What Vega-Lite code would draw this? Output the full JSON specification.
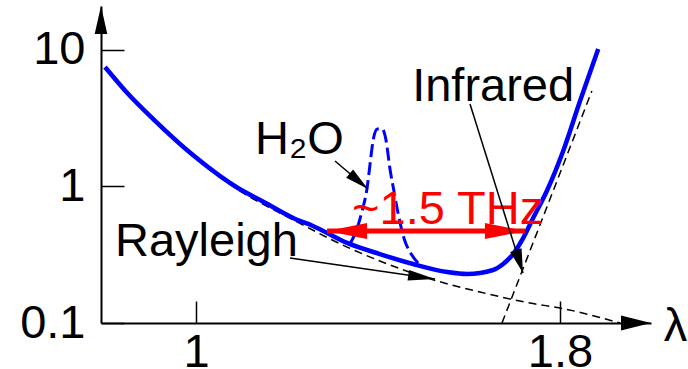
{
  "$schema": "https://vega.github.io/schema/vega-lite/v6.json",
  "width": 550,
  "height": 317,
  "autosize": "none",
  "padding": {"left": 101, "top": 6, "right": 37, "bottom": 46},
  "background": "white",
  "config": {"view": {"stroke": null}, "font": "Liberation Sans"},
  "datasets": {
    "attenuation": [
      {"lambda": 0.800, "loss": 7.51}, {"lambda": 0.851, "loss": 4.76}, {"lambda": 0.906, "loss": 3.12},
      {"lambda": 0.998, "loss": 1.65}, {"lambda": 1.092, "loss": 0.975}, {"lambda": 1.145, "loss": 0.783},
      {"lambda": 1.218, "loss": 0.578}, {"lambda": 1.257, "loss": 0.514}, {"lambda": 1.332, "loss": 0.386},
      {"lambda": 1.404, "loss": 0.320}, {"lambda": 1.477, "loss": 0.2705}, {"lambda": 1.552, "loss": 0.2364},
      {"lambda": 1.596, "loss": 0.2285}, {"lambda": 1.653, "loss": 0.2445}, {"lambda": 1.675, "loss": 0.2705},
      {"lambda": 1.697, "loss": 0.320}, {"lambda": 1.719, "loss": 0.419}, {"lambda": 1.741, "loss": 0.588},
      {"lambda": 1.771, "loss": 0.927}, {"lambda": 1.807, "loss": 1.82}, {"lambda": 1.844, "loss": 4.23},
      {"lambda": 1.884, "loss": 10.17}
    ],
    "water": [
      {"lambda": 1.338, "loss": 0.379}, {"lambda": 1.352, "loss": 0.472}, {"lambda": 1.365, "loss": 0.661},
      {"lambda": 1.376, "loss": 0.975}, {"lambda": 1.382, "loss": 1.41}, {"lambda": 1.389, "loss": 2.15},
      {"lambda": 1.398, "loss": 2.64}, {"lambda": 1.409, "loss": 2.64}, {"lambda": 1.418, "loss": 2.15},
      {"lambda": 1.426, "loss": 1.366}, {"lambda": 1.435, "loss": 0.927}, {"lambda": 1.444, "loss": 0.64},
      {"lambda": 1.457, "loss": 0.419}, {"lambda": 1.473, "loss": 0.320}, {"lambda": 1.488, "loss": 0.275}
    ],
    "rayleigh": [
      {"lambda": 0.800, "loss": 7.3}, {"lambda": 0.906, "loss": 3.05}, {"lambda": 0.998, "loss": 1.61},
      {"lambda": 1.092, "loss": 0.95}, {"lambda": 1.218, "loss": 0.56}, {"lambda": 1.332, "loss": 0.36},
      {"lambda": 1.404, "loss": 0.2846}, {"lambda": 1.508, "loss": 0.2137}, {"lambda": 1.624, "loss": 0.1687},
      {"lambda": 1.734, "loss": 0.140}, {"lambda": 1.800, "loss": 0.1288}, {"lambda": 1.932, "loss": 0.1}
    ],
    "infrared": [
      {"lambda": 1.6725, "loss": 0.1}, {"lambda": 1.870, "loss": 5.01}
    ],
    "band": [
      {"lambda": 1.288, "loss": 0.472, "end": "left"}, {"lambda": 1.723, "loss": 0.472, "end": "right"}
    ],
    "notes": [
      {"label": "Rayleigh", "lambda": 0.822, "loss": 0.3096},
      {"label": "H₂O", "lambda": 1.1297, "loss": 1.730},
      {"label": "Infrared", "lambda": 1.475, "loss": 4.23}
    ],
    "pointers": [
      {"name": "H2O", "part": "start", "lambda": 1.3055, "loss": 1.538},
      {"name": "H2O", "part": "tip", "lambda": 1.378, "loss": 0.958},
      {"name": "Rayleigh", "part": "start", "lambda": 1.2066, "loss": 0.2994},
      {"name": "Rayleigh", "part": "tip", "lambda": 1.5253, "loss": 0.210},
      {"name": "Infrared", "part": "start", "lambda": 1.6022, "loss": 4.02},
      {"name": "Infrared", "part": "tip", "lambda": 1.7187, "loss": 0.2324}
    ],
    "axisEnds": [
      {"axis": "y", "lambda": 0.7912, "loss": 21},
      {"axis": "x", "lambda": 2.0, "loss": 0.1}
    ]
  },
  "encoding": {
    "x": {
      "field": "lambda", "type": "quantitative",
      "scale": {"domain": [0.7912, 2.0], "nice": false, "zero": false},
      "axis": {
        "values": [1, 1.8], "format": "~g", "title": null, "grid": false,
        "labelFontSize": 47, "labelFont": "Liberation Sans", "labelColor": "#000",
        "labelPadding": 28, "tickSize": -22, "tickWidth": 1.5, "tickColor": "#000",
        "domainColor": "#000", "domainWidth": 2, "labelFlush": false, "labelBound": false, "labelOverlap": false
      }
    },
    "y": {
      "field": "loss", "type": "quantitative",
      "scale": {"type": "log", "domain": [0.1, 21], "nice": false},
      "axis": {
        "values": [0.1, 1, 10], "format": "~g", "title": null, "grid": false,
        "labelFontSize": 47, "labelFont": "Liberation Sans", "labelColor": "#000",
        "labelPadding": 39, "tickSize": -23, "tickWidth": 1.5, "tickColor": "#000",
        "domainColor": "#000", "domainWidth": 2, "labelFlush": false, "labelBound": false, "labelOverlap": false
      }
    }
  },
  "layer": [
    {"data": {"name": "rayleigh"}, "mark": {"type": "line", "color": "#000", "strokeWidth": 1.5, "strokeDash": [8, 5], "interpolate": "monotone"}},
    {"data": {"name": "infrared"}, "mark": {"type": "line", "color": "#000", "strokeWidth": 1.5, "strokeDash": [8, 5]}},
    {"data": {"name": "water"}, "mark": {"type": "line", "color": "#0000ff", "strokeWidth": 3, "strokeDash": [13, 5], "interpolate": "monotone"}},
    {"data": {"name": "attenuation"}, "mark": {"type": "line", "color": "#0000ff", "strokeWidth": 4.5, "interpolate": "monotone"}},
    {"data": {"name": "band"}, "mark": {"type": "line", "color": "#ff0000", "strokeWidth": 5}},
    {"data": {"name": "band"}, "transform": [{"filter": "datum.end === 'left'"}],
     "mark": {"type": "point", "filled": true, "color": "#ff0000", "opacity": 1, "shape": "M 0 0 L 2 -0.4 L 2 0.4 Z", "size": 1600}},
    {"data": {"name": "band"}, "transform": [{"filter": "datum.end === 'right'"}],
     "mark": {"type": "point", "filled": true, "color": "#ff0000", "opacity": 1, "shape": "M 0 0 L -2 -0.4 L -2 0.4 Z", "size": 1600}},
    {"data": {"name": "notes"}, "mark": {"type": "text", "align": "left", "baseline": "alphabetic", "fontSize": 47, "font": "Liberation Sans", "color": "#000"},
     "encoding": {"text": {"field": "label"}}},
    {"data": {"values": [{"label": "~1.5 THz", "lambda": 1.343, "loss": 0.531}]},
     "mark": {"type": "text", "align": "left", "baseline": "alphabetic", "fontSize": 47, "font": "Liberation Sans", "color": "#ff0000"},
     "encoding": {"text": {"field": "label"}}},
    {"data": {"values": [{"label": "λ", "lambda": 2.028, "loss": 0.0934}]},
     "mark": {"type": "text", "align": "left", "baseline": "middle", "fontSize": 47, "font": "Liberation Sans", "color": "#000"},
     "encoding": {"text": {"field": "label"}}},
    {"data": {"name": "pointers"}, "mark": {"type": "line", "color": "#000", "strokeWidth": 1.5},
     "encoding": {"detail": {"field": "name"}}},
    {"data": {"name": "pointers"}, "transform": [{"filter": "datum.name === 'H2O' && datum.part === 'tip'"}],
     "mark": {"type": "point", "filled": true, "color": "#000", "opacity": 1, "shape": "M 0 0 L -2 -0.45 L -2 0.45 Z", "size": 576},
     "encoding": {"angle": {"value": 40}}},
    {"data": {"name": "pointers"}, "transform": [{"filter": "datum.name === 'Rayleigh' && datum.part === 'tip'"}],
     "mark": {"type": "point", "filled": true, "color": "#000", "opacity": 1, "shape": "M 0 0 L -2 -0.4 L -2 0.4 Z", "size": 729},
     "encoding": {"angle": {"value": 8}}},
    {"data": {"name": "pointers"}, "transform": [{"filter": "datum.name === 'Infrared' && datum.part === 'tip'"}],
     "mark": {"type": "point", "filled": true, "color": "#000", "opacity": 1, "shape": "M 0 0 L -2 -0.5 L -2 0.5 Z", "size": 576},
     "encoding": {"angle": {"value": 72.6}}},
    {"data": {"name": "axisEnds"}, "transform": [{"filter": "datum.axis === 'y'"}],
     "mark": {"type": "point", "filled": true, "color": "#000", "opacity": 1, "shape": "M 0 0 L 0.45 2 L -0.45 2 Z", "size": 784}},
    {"data": {"name": "axisEnds"}, "transform": [{"filter": "datum.axis === 'x'"}],
     "mark": {"type": "point", "filled": true, "color": "#000", "opacity": 1, "shape": "M 0 0 L -2 -0.5 L -2 0.5 Z", "size": 900}}
  ]
}
